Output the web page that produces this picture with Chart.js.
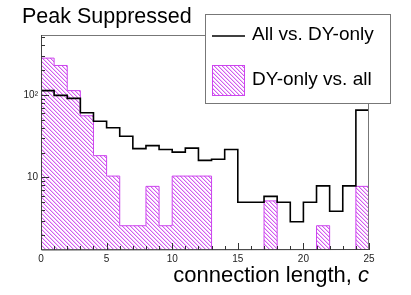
<!DOCTYPE html>
<html>
<head>
<meta charset="utf-8">
<script src="https://cdn.jsdelivr.net/npm/chart.js@4/dist/chart.umd.min.js"></script>
<style>
  body { margin: 0; background: #fff; }
  canvas { display: block; }
</style>
</head>
<body>
<canvas id="grafico" width="411" height="295"></canvas>
<script>
// bordas dos bins (conexao 0..25)
const bordas = [0, 1, 2, 3, 4, 5, 6, 7, 8, 9, 10, 11, 12, 13, 14, 15, 16, 17, 18, 19, 20, 21, 22, 23, 24, 25];
const allVsDy = [113, 99, 91, 61, 48, 40, 31.6, 22.4, 24.3, 21.8, 20.3, 22.7, 16.1, 16.6, 21.8, 5.0, 5.0, 5.9, 5.0, 2.9, 5.0, 7.9, 3.9, 7.9, 65.6];
const dyVsAll = [280, 228, 113, 56, 18.4, 10.4, 2.6, 2.6, 7.8, 2.6, 10.4, 10.4, 10.4, 0, 0, 0, 0, 5.2, 0, 0, 0, 2.6, 0, 0, 7.8];
const xTicks = [0, 5, 10, 15, 20, 25];
const yLabels = { 10: "10", 100: "10\u00B2" };
const yMin = 1.32;
const yMax = 534;

const fonte = "'Liberation Sans', Arial, sans-serif";

// transforma os bins em pontos de degrau
function degraus(valores, fechar) {
  var pts = [];
  if (fechar) pts.push({ x: bordas[0], y: yMin });
  pts.push({ x: bordas[0], y: valores[0] > 0 ? valores[0] : yMin });
  for (var i = 0; i < valores.length; i++) {
    pts.push({ x: bordas[i + 1], y: valores[i] > 0 ? valores[i] : yMin });
  }
  if (fechar) pts.push({ x: bordas[bordas.length - 1], y: yMin });
  return pts;
}

// hachura diagonal
function hachura() {
  const c = document.createElement("canvas");
  c.width = 4;
  c.height = 4;
  const g = c.getContext("2d");
  g.fillStyle = "#ffffff";
  g.fillRect(0, 0, 4, 4);
  for (var i = 0; i < 4; i++) {
    g.fillStyle = "#d35cf0";
    g.fillRect(i, i, 1, 1);
    g.fillStyle = "#f0c4fa";
    g.fillRect((i + 1) % 4, i, 1, 1);
  }
  return g.createPattern(c, "repeat");
}

const padrao = hachura();

const extras = {
  id: "extras",
  afterDraw(chart) {
    const ctx = chart.ctx;
    const a = chart.chartArea;
    const sx = chart.scales.x;
    const sy = chart.scales.y;
    ctx.save();

    // moldura
    ctx.strokeStyle = "#777";
    ctx.lineWidth = 1;
    ctx.strokeRect(a.left + 0.5, a.top + 0.5, a.right - a.left - 1, a.bottom - a.top - 1);
    ctx.strokeStyle = "#444";
    ctx.beginPath();
    ctx.moveTo(a.left + 0.5, a.top);
    ctx.lineTo(a.left + 0.5, a.bottom);
    ctx.lineTo(a.right, a.bottom - 0.5);
    ctx.stroke();

    // ticks para dentro
    ctx.strokeStyle = "#333";
    ctx.beginPath();
    for (var v = 0; v <= 25; v++) {
      var px = Math.round(sx.getPixelForValue(v)) + 0.5;
      var len = v % 5 == 0 ? 7 : 4;
      ctx.moveTo(px, a.bottom);
      ctx.lineTo(px, a.bottom - len);
    }
    for (var d = 1; d <= 100; d *= 10) {
      for (var k = 1; k <= 9; k++) {
        var val = d * k;
        if (val < yMin || val > yMax) continue;
        var py = Math.round(sy.getPixelForValue(val)) + 0.5;
        var l = k == 1 ? 8 : 4;
        ctx.moveTo(a.left, py);
        ctx.lineTo(a.left + l, py);
      }
    }
    ctx.stroke();

    // titulo
    ctx.fillStyle = "#000";
    ctx.font = "21.5px " + fonte;
    ctx.textAlign = "left";
    ctx.textBaseline = "alphabetic";
    ctx.fillText("Peak Suppressed", 22, 23);

    // titulo do eixo x
    ctx.textAlign = "right";
    ctx.font = "italic 22px " + fonte;
    var wc = ctx.measureText("c").width;
    ctx.fillText("c", a.right, 282);
    ctx.font = "22px " + fonte;
    ctx.fillText("connection length, ", a.right - wc, 282);

    // legenda
    ctx.fillStyle = "#fff";
    ctx.fillRect(205, 14, 185, 89);
    ctx.strokeStyle = "#777";
    ctx.strokeRect(205.5, 14.5, 185, 89);
    ctx.strokeStyle = "#000";
    ctx.lineWidth = 1.5;
    ctx.beginPath();
    ctx.moveTo(212, 36);
    ctx.lineTo(245, 36);
    ctx.stroke();
    ctx.fillStyle = padrao;
    ctx.fillRect(212, 65, 33, 31);
    ctx.strokeStyle = "#cc44ee";
    ctx.lineWidth = 1;
    ctx.strokeRect(212.5, 65.5, 32, 30);
    ctx.fillStyle = "#000";
    ctx.textAlign = "left";
    ctx.textBaseline = "middle";
    ctx.font = "19px " + fonte;
    ctx.fillText("All vs. DY-only", 252, 35);
    ctx.fillText("DY-only vs. all", 252, 80);

    ctx.restore();
  },
};

new Chart(document.getElementById("grafico"), {
  type: "line",
  data: {
    datasets: [
      {
        label: "All vs. DY-only",
        data: degraus(allVsDy, false),
        stepped: "after",
        borderColor: "#000",
        borderWidth: 1.6,
        pointRadius: 0,
        fill: false,
      },
      {
        label: "DY-only vs. all",
        data: degraus(dyVsAll, true),
        stepped: "after",
        borderColor: "#cc44ee",
        borderWidth: 1,
        backgroundColor: padrao,
        pointRadius: 0,
        fill: "start",
      },
    ],
  },
  options: {
    responsive: false,
    animation: false,
    devicePixelRatio: 1,
    layout: { padding: { top: 35, right: 42, left: 0, bottom: 0 } },
    plugins: {
      legend: { display: false },
      tooltip: { enabled: false },
    },
    scales: {
      x: {
        type: "linear",
        min: 0,
        max: 25,
        afterFit: function (s) { s.height = 45; },
        afterBuildTicks: function (s) {
          s.ticks = xTicks.map(function (t) { return { value: t }; });
        },
        grid: { display: false, drawTicks: false },
        border: { display: false },
        ticks: {
          color: "#222",
          font: { family: fonte, size: 10 },
          padding: 3,
          maxRotation: 0,
        },
      },
      y: {
        type: "logarithmic",
        min: yMin,
        max: yMax,
        afterFit: function (s) { s.width = 41; },
        afterBuildTicks: function (s) {
          s.ticks = [10, 100].map(function (t) { return { value: t }; });
        },
        grid: { display: false, drawTicks: false },
        border: { display: false },
        ticks: {
          color: "#222",
          font: { family: fonte, size: 10 },
          padding: 3,
          callback: function (v) { return yLabels[v] || ""; },
        },
      },
    },
  },
  plugins: [extras],
});
</script>
</body>
</html>
